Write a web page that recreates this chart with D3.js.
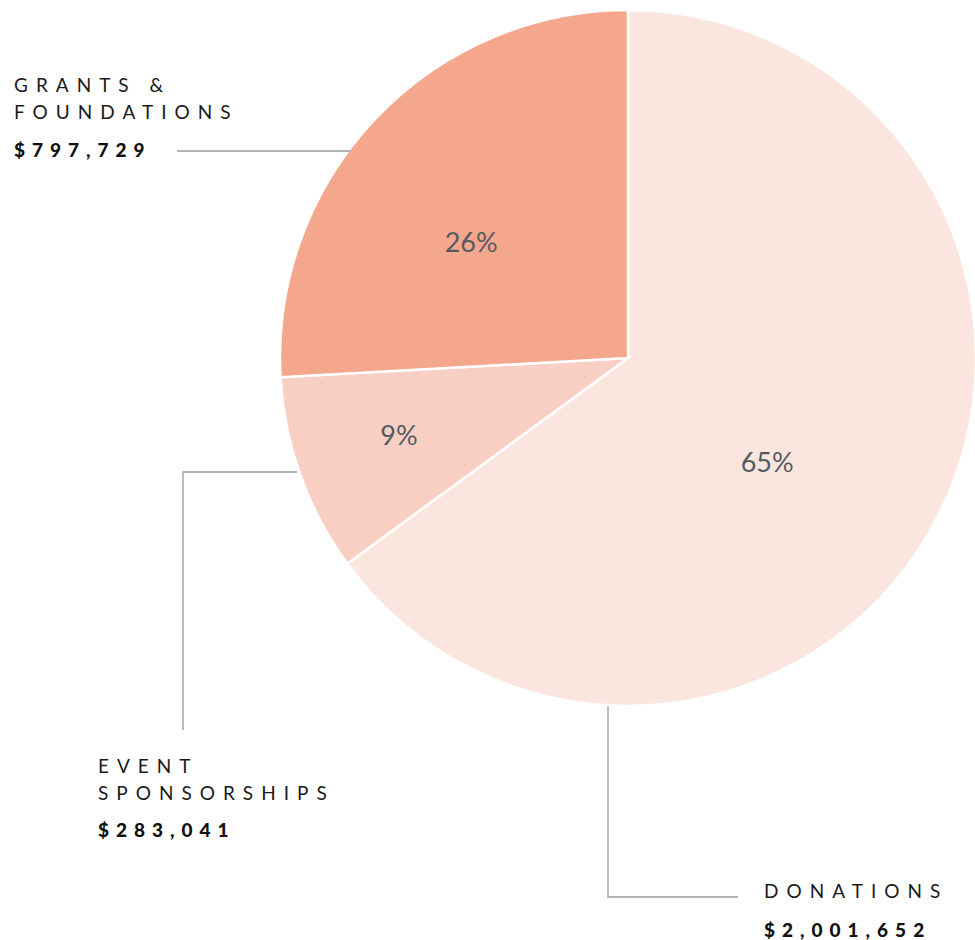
<!doctype html>
<html lang="en">
<head>
	<meta charset="utf-8">
	<title>Revenue pie</title>
	<script src="https://cdn.jsdelivr.net/npm/d3@7"></script>
	<style>
		body { margin: 0; background: #fff; }
		.cat { font-family: Lato, sans-serif; font-size: 19px; fill: #1a1a1a; letter-spacing: 8px; }
		.amt { font-family: Lato, sans-serif; font-size: 19px; font-weight: 900; fill: #111; letter-spacing: 7px; }
		.pct { font-family: Lato, sans-serif; font-size: 27px; fill: #545b62; }
	</style>
</head>
<body>
	<svg id="chart" width="975" height="940"></svg>
	<script>
		// data
		var categories = ["Donations", "Event Sponsorships", "Grants & Foundations"];
		var amounts = [2001652, 283041, 797729];
		var percentLabels = ["65%", "9%", "26%"];
		var colors = ["#fbe6df", "#f9cfc3", "#f4a78d"];

		var svg = d3.select("#chart");
		var cx = 628, cy = 358, r = 348;

		var pie = d3.pie().sort(null).value(function(d) { return d; });
		var arcs = pie(amounts);
		var arc = d3.arc().innerRadius(0).outerRadius(r);

		var g = svg.append("g").attr("transform", "translate(" + cx + "," + cy + ")");

		g.selectAll("path.slice")
		.data(arcs)
		.enter()
		.append("path")
		.attr("class", "slice")
		.attr("d", arc)
		.attr("fill", function(d, i) { return colors[i]; })
		.attr("stroke", "#fff")
		.attr("stroke-width", 2.5);

		// percent labels, pushed out a bit differently per slice
		var labelR = [0.50, 0.695, 0.56];
		var labelShift = [10, 1, -7];
		function labelAngle(d, i) {
			return (d.startAngle + d.endAngle) / 2 + labelShift[i] * Math.PI / 180;
		}
		g.selectAll("text.pct")
		.data(arcs)
		.enter()
		.append("text")
		.attr("class", "pct")
		.attr("text-anchor", "middle")
		.attr("dy", "0.35em")
		.attr("x", function(d, i) { return Math.sin(labelAngle(d, i)) * r * labelR[i]; })
		.attr("y", function(d, i) { return -Math.cos(labelAngle(d, i)) * r * labelR[i]; })
		.text(function(d, i) { return percentLabels[i]; });

		var fmt = d3.format("$,");

		// leader lines
		var lineColor = "#9a9a9a";
		var leaders = [
			[[608, cy + r], [608, 897], [738, 897]],
			[[297, 472], [183, 472], [183, 730]],
			[[350, 151], [177, 151]]
		];
		svg.selectAll("path.leader")
		.data(leaders)
		.enter()
		.append("path")
		.attr("class", "leader")
		.attr("d", d3.line())
		.attr("fill", "none")
		.attr("stroke", lineColor)
		.attr("stroke-width", 1.3);

		// category labels
		var labelText = [["DONATIONS"], ["EVENT", "SPONSORSHIPS"], ["GRANTS &", "FOUNDATIONS"]];
		var labelPos = [[764, 898, 937], [98, 773, 837], [14, 92, 157]];

		labelText.forEach(function(lines, i) {
			var p = labelPos[i];
			lines.forEach(function(t, j) {
				svg.append("text").attr("class", "cat")
				.attr("x", p[0]).attr("y", p[1] + j * 27).text(t);
			});
			svg.append("text").attr("class", "amt")
			.attr("x", p[0]).attr("y", p[2]).text(fmt(amounts[i]));
		});
	</script>
</body>
</html>
